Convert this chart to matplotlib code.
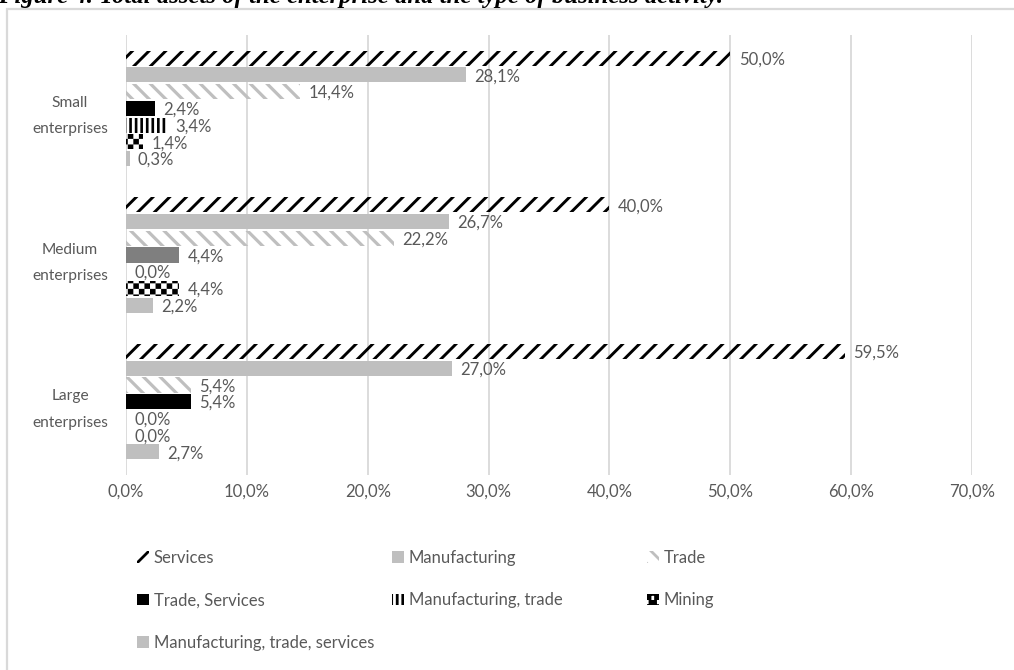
import warnings
warnings.filterwarnings("ignore")
import matplotlib
matplotlib.use("Agg")
import matplotlib.pyplot as plt
import matplotlib.hatch as mhatch
from matplotlib.path import Path
from matplotlib.patches import Rectangle
import numpy as np

# ---------------- data ----------------
categories = ["Small\nenterprises", "Medium\nenterprises", "Large\nenterprises"]
series_names = ["Services", "Manufacturing", "Trade", "Trade, Services",
                "Manufacturing, trade", "Mining", "Manufacturing, trade, services"]
services = [50.0, 40.0, 59.5]
manufacturing = [28.1, 26.7, 27.0]
trade = [14.4, 22.2, 5.4]
trade_services = [2.4, 4.4, 5.4]
manufacturing_trade = [3.4, 0.0, 0.0]
mining = [1.4, 4.4, 0.0]
manufacturing_trade_services = [0.3, 2.2, 2.7]
x_ticks = [0, 10, 20, 30, 40, 50, 60, 70]
x_tick_labels = ["0,0%", "10,0%", "20,0%", "30,0%", "40,0%", "50,0%", "60,0%", "70,0%"]
title = "Figure 4. Total assets of the enterprise and the type of business activity."

series_values = [services, manufacturing, trade, trade_services,
                 manufacturing_trade, mining, manufacturing_trade_services]


# ---------------- custom checker hatch ('c') ----------------
class CheckerHatch(mhatch.HatchPatternBase):
    def __init__(self, hatch, density):
        n = hatch.count('c') * density
        if n % 2:
            n += 1
        self.n = n
        self.num_vertices = (n * n // 2) * 5 if n else 0

    def set_vertices_and_codes(self, vertices, codes):
        n = self.n
        s = 1.0 / n
        k = 0
        for r in range(n):
            for c in range(n):
                if (r + c) % 2 == 0:
                    x0, y0 = c * s, r * s
                    vertices[k:k + 5] = [(x0, y0), (x0 + s, y0), (x0 + s, y0 + s),
                                         (x0, y0 + s), (x0, y0)]
                    codes[k:k + 5] = [Path.MOVETO, Path.LINETO, Path.LINETO,
                                      Path.LINETO, Path.CLOSEPOLY]
                    k += 5


mhatch._hatch_types.append(CheckerHatch)

# ---------------- style ----------------
GRAY_TXT = "#595959"
LIGHT = "#BFBFBF"
plt.rcParams['font.family'] = ['Lato', 'DejaVu Sans']
plt.rcParams['hatch.linewidth'] = 2.0

styles = [
    dict(face='none', hatch='//', hcolor='black', hlw=2.1),
    dict(face=LIGHT, hatch=None, hcolor=LIGHT, hlw=0),
    dict(face='none', hatch='\\\\', hcolor=LIGHT, hlw=2.3),
    dict(face='black', hatch=None, hcolor='black', hlw=0),
    dict(face='none', hatch='|||', hcolor='black', hlw=1.9),
    dict(face='none', hatch='ccc', hcolor='black', hlw=0.0),
    dict(face=LIGHT, hatch=None, hcolor=LIGHT, hlw=0),
]
# per-category override (medium enterprises "Trade, Services" bar is dark gray)
trade_services_colors = ['black', '#7F7F7F', 'black']

fig = plt.figure(figsize=(10.14, 6.70), dpi=100)
ax = fig.add_axes([126 / 1014, 1 - 475 / 670, 846 / 1014, 440 / 670])

y = np.arange(len(categories))
step = 0.114
height = 0.103
containers = []
for j, (vals, st) in enumerate(zip(series_values, styles)):
    pos = y + (j - 3) * step
    bc = ax.barh(pos, vals, height=height, color=st['face'],
                 edgecolor=st['hcolor'], linewidth=0, hatch=st['hatch'],
                 label=series_names[j], zorder=2)
    for p in bc.patches:
        try:
            p.set_hatch_linewidth(st['hlw'] if st['hlw'] > 0 else 0.01)
        except Exception:
            pass
    if j == 3:
        for p, c in zip(bc.patches, trade_services_colors):
            p.set_facecolor(c)
            p.set_edgecolor(c)
    containers.append(bc)
    for v, yy in zip(vals, pos):
        ax.annotate(f"{v:.1f}%".replace('.', ','), xy=(v, yy), xytext=(6, -1),
                    textcoords='offset points', va='center', ha='left',
                    color=GRAY_TXT, fontsize=12)

ax.set_xlim(0, 70)
ax.set_ylim(len(categories) - 0.5, -0.5)
ax.set_xticks(x_ticks)
ax.set_xticklabels(x_tick_labels)
ax.set_yticks(y)
ax.set_yticklabels(categories, multialignment='center', linespacing=2.15)
ax.tick_params(axis='both', length=0, colors=GRAY_TXT, labelsize=12)
ax.tick_params(axis='y', labelsize=11.2, pad=13)
ax.tick_params(axis='x', pad=6)
for s in ax.spines.values():
    s.set_visible(False)
ax.xaxis.grid(True, color='#D9D9D9', linewidth=1.3, zorder=0)
ax.set_axisbelow(True)

# ---------------- legend (3 equal-width columns, row-major order) ----------------
columns = [[0, 3, 6], [1, 4], [2, 5]]
col_x0 = 137 / 1014
col_step = 255 / 1014
top_y = 1 - 550 / 670
for ci, idxs in enumerate(columns):
    leg = fig.legend([containers[i] for i in idxs], [series_names[i] for i in idxs],
                     loc='upper left', bbox_to_anchor=(col_x0 + ci * col_step, top_y),
                     bbox_transform=fig.transFigure, frameon=False, fontsize=12,
                     handlelength=0.7, handleheight=0.7, handletextpad=0.3,
                     labelspacing=1.58, borderpad=0, borderaxespad=0)
    for t in leg.get_texts():
        t.set_color(GRAY_TXT)

# ---------------- frame and cropped title ----------------
frame = Rectangle((7 / 1014, -0.05), 1.0, 1 - 8.5 / 670 + 0.05, transform=fig.transFigure,
                  fill=False, edgecolor='#D9D9D9', linewidth=1.6, clip_on=False)
fig.add_artist(frame)
fig.text(-0.002, 1 - 3.5 / 670, title, family='Liberation Serif', weight='bold',
         style='italic', fontsize=17.8, va='baseline', ha='left', color='black')

fig.savefig("out.png", dpi=100)
